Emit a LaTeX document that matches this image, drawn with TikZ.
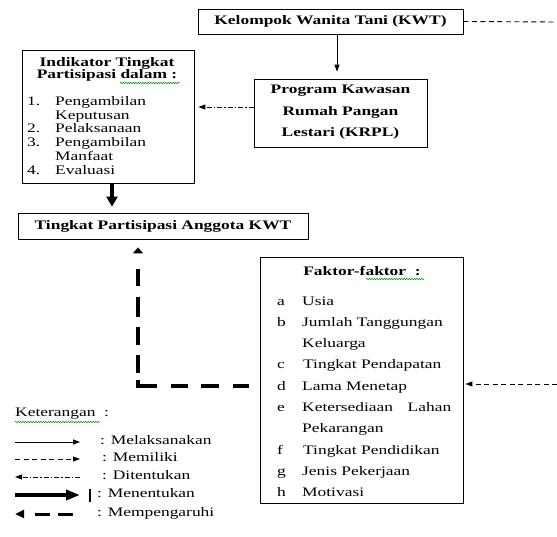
\documentclass[tikz,border=0pt]{standalone}
\usepackage{fontspec}
\setmainfont{Liberation Serif}[FakeStretch=1.34]
\usetikzlibrary{arrows.meta,decorations.pathmorphing}
\begin{document}
\begin{tikzpicture}[x=1pt,y=-1pt,
  box/.style={draw, line width=0.8pt, inner sep=0pt},
  txt/.style={inner sep=0pt, font=\fontsize{13}{15}\selectfont},
  btxt/.style={inner sep=0pt, font=\fontsize{13}{15}\selectfont\bfseries},
  lt/.style={txt, anchor=mid west},
  thinline/.style={line width=0.9pt},
  thintip/.style={-{Triangle[length=7pt,width=5pt]}},
  memiliki/.style={thinline, dash pattern=on 5pt off 3.5pt},
  ditentukan/.style={thinline, dash pattern=on 5pt off 2pt on 1.5pt off 2pt},
  bigarrow/.style={line width=3.5pt, -{Triangle[length=10pt,width=11pt]}},
  pengaruh/.style={line width=3.2pt, -{Triangle[length=6pt,width=10pt]}},
  squig/.style={green!55!black, line width=0.5pt, decorate,
    decoration={snake, amplitude=0.7pt, segment length=2.5pt}}
]
\useasboundingbox (0,0) rectangle (557,537);

% ---------- boxes ----------
\node[box, minimum width=265pt, minimum height=25pt] (kwt) at (330.5,21.5)
  {\fontsize{13}{15}\selectfont\bfseries Kelompok Wanita Tani (KWT)};
\node[box, minimum width=173pt, minimum height=68pt] (krpl) at (340.5,113) {};
\node[box, minimum width=172pt, minimum height=133pt] (ind) at (108,116.5) {};
\node[box, minimum width=290pt, minimum height=26pt] (tpa) at (163,226)
  {\fontsize{13}{15}\selectfont\bfseries Tingkat Partisipasi Anggota KWT};
\node[box, minimum width=203pt, minimum height=246pt] (fak) at (361.5,380) {};

% ---------- KRPL text ----------
\node[btxt] (kr1) at (340.5,91) {Program Kawasan};
\node[btxt] (kr2) at (340.5,112) {Rumah Pangan};
\node[btxt] (kr3) at (340.5,133) {Lestari (KRPL)};

% ---------- Indikator text ----------
\node[btxt] (in1) at (107,63) {Indikator Tingkat};
\node[btxt] (in2) at (107,75.5) {Partisipasi dalam :};
\node[lt] (n1) at (27,103) {1.};
\node[lt] (i1) at (55,103) {Pengambilan};
\node[lt] (i1b) at (55,117) {Keputusan};
\node[lt] (n2) at (27,130.5) {2.};
\node[lt] (i2) at (55,130.5) {Pelaksanaan};
\node[lt] (n3) at (27,144.5) {3.};
\node[lt] (i3) at (55,144.5) {Pengambilan};
\node[lt] (i3b) at (55,158) {Manfaat};
\node[lt] (n4) at (27,172) {4.};
\node[lt] (i4) at (55,172) {Evaluasi};

% ---------- Faktor text ----------
\node[btxt] (ft) at (362,271) {Faktor-faktor~ :};
\node[lt] (la) at (277,303) {a};   \node[lt] (fa) at (302,303) {Usia};
\node[lt] (lb) at (277,324) {b};   \node[lt] (fb) at (302,324) {Jumlah Tanggungan};
\node[lt] (fb2) at (302,345) {Keluarga};
\node[lt] (lc) at (277,366) {c};   \node[lt] (fc) at (303,366) {Tingkat Pendapatan};
\node[lt] (ld) at (277,388) {d};   \node[lt] (fd) at (302,388) {Lama Menetap};
\node[lt] (le) at (277,409) {e};   \node[lt] (fe) at (302,409) {\makebox[149pt][s]{Ketersediaan\hfill Lahan}};
\node[lt] (fe2) at (302,430) {Pekarangan};
\node[lt] (lf) at (277,452) {f};   \node[lt] (ff) at (303,452) {Tingkat Pendidikan};
\node[lt] (lg) at (277,473) {g};   \node[lt] (fg) at (302,473) {Jenis Pekerjaan};
\node[lt] (lh) at (277,494) {h};   \node[lt] (fh) at (302,494) {Motivasi};

% ---------- spell-check squiggles ----------
\draw[squig] (120,83) -- (180,83);
\draw[squig] (366,279) -- (424,279);
\draw[squig] (15,422) -- (100,422);

% ---------- connectors ----------
\coordinate (kwtR) at (557,22);
\coordinate (fakR) at (557,384);
\draw[memiliki] (kwt.east) -- (kwtR);
\draw[thinline, thintip, shorten >=7pt] (kwt.south -| 337,0) -- (krpl.north -| 337,0);
\draw[ditentukan, thintip, shorten >=4pt] (krpl.west |- 0,107) -- (ind.east |- 0,107);
\draw[bigarrow, shorten >=6pt] ([xshift=4pt]ind.south) -- ([xshift=4pt]ind.south |- tpa.north);
\draw[pengaruh, shorten <=11pt, shorten >=8pt,
  dash pattern=on 16pt off 14pt on 18pt off 13pt on 17pt off 14pt on 25pt off 7pt on 18pt off 10pt on 18pt off 10pt on 20pt off 11pt on 17pt off 40pt]
  (fak.west |- 0,386) -- (138,386) -- (tpa.south -| 138,0);
\draw[memiliki, thintip, shorten >=2pt] (fakR) -- (fak.east |- fakR);

% ---------- legend ----------
\node[lt] (ket) at (15,414) {Keterangan~ :};
\coordinate (l1a) at (15,442); \coordinate (l1b) at (80,442);
\coordinate (l2a) at (15,459); \coordinate (l2b) at (80,459);
\coordinate (l3a) at (15,477); \coordinate (l3b) at (80,477);
\coordinate (l4a) at (15,495); \coordinate (l4b) at (80,495);
\coordinate (l5a) at (15,514); \coordinate (l5b) at (73,514);
\draw[thinline, thintip] (l1a) -- (l1b);
\draw[memiliki, thintip] (l2a) -- (l2b);
\draw[ditentukan, thintip] (l3b) -- (l3a);
\draw[line width=3.5pt, -{Triangle[length=14pt,width=10pt]}] (l4a) -- (l4b);
\draw[line width=2.5pt] (90,488.5) -- (90,501.5);
\draw[line width=3pt, -{Triangle[length=9pt,width=8pt]},
  dash pattern=on 15pt off 8pt on 15pt off 30pt] (l5b) -- (l5a);
\node[lt] (t1) at (100,442) {: Melaksanakan};
\node[lt] (t2) at (102,459) {: Memiliki};
\node[lt] (t3) at (102,477) {: Ditentukan};
\node[lt] (t4) at (97,495) {: Menentukan};
\node[lt] (t5) at (97,514) {: Mempengaruhi};
\end{tikzpicture}
\end{document}
